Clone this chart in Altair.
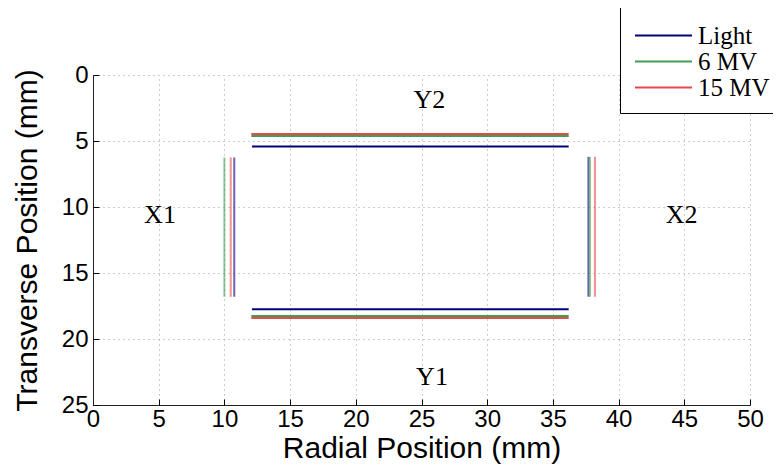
import altair as alt
import pandas as pd

# Segments: series, edge, x start, x end, y start, y end (mm)
series = ["Light", "Light", "Light", "Light",
          "6 MV", "6 MV", "6 MV", "6 MV",
          "15 MV", "15 MV", "15 MV", "15 MV"]
edge = ["Y2", "Y1", "X1", "X2"] * 3
x_start = [12.1, 12.1, 10.75, 37.7,
           12.05, 12.05, 10.0, 37.82,
           12.05, 12.05, 10.48, 38.2]
x_end = [36.2, 36.2, 10.75, 37.7,
         36.2, 36.2, 10.0, 37.82,
         36.2, 36.2, 10.48, 38.2]
y_start = [5.42, 17.75, 6.25, 6.2,
           4.62, 18.26, 6.25, 6.2,
           4.47, 18.4, 6.25, 6.2]
y_end = [5.42, 17.75, 16.8, 16.8,
         4.62, 18.26, 16.8, 16.8,
         4.47, 18.4, 16.8, 16.8]

# Annotation labels
ann_text = ["Y2", "Y1", "X1", "X2"]
ann_x = [25.6, 25.8, 5.1, 44.8]
ann_y = [1.9, 22.9, 10.6, 10.6]

x_ticks = [0, 5, 10, 15, 20, 25, 30, 35, 40, 45, 50]
y_ticks = [0, 5, 10, 15, 20, 25]

series_order = ["Light", "6 MV", "15 MV"]
series_colors = ["#00007a", "#3f9f52", "#e8484a"]

df = pd.DataFrame({"series": series, "edge": edge, "x0": x_start, "x1": x_end,
                   "y0": y_start, "y1": y_end})
df["vertical"] = df["edge"].isin(["X1", "X2"])
ann = pd.DataFrame({"t": ann_text, "x": ann_x, "y": ann_y})

xs = alt.Scale(domain=[0, 50], nice=False, zero=False)
ys = alt.Scale(domain=[0, 25], nice=False, zero=False, reverse=True)

grid_axis_common = dict(grid=True, gridColor="#9a9a9a", gridDash=[1, 4], gridWidth=1,
                        domainColor="#222", domainWidth=1, ticks=False, labelFlush=False,
                        labelFont="Liberation Sans", labelFontSize=24, labelColor="black",
                        titleFont="Liberation Sans", titleFontSize=30, titleColor="black",
                        titleFontWeight="normal")

x_axis = alt.Axis(values=x_ticks, title="Radial Position (mm)",
                  labelPadding=2, titlePadding=2, orient="bottom", **grid_axis_common)
y_axis = alt.Axis(values=y_ticks, title="Transverse Position (mm)",
                  labelPadding=5, titlePadding=19, orient="left", **grid_axis_common)

segments = alt.Chart(df).mark_rule(strokeWidth=2).encode(
    x=alt.X("x0:Q", scale=xs, axis=x_axis),
    x2="x1:Q",
    y=alt.Y("y0:Q", scale=ys, axis=y_axis),
    y2="y1:Q",
    color=alt.Color("series:N",
                    scale=alt.Scale(domain=series_order, range=series_colors),
                    sort=series_order,
                    legend=alt.Legend(orient="none", legendX=527, legendY=-68, title=" ",
                                      titleFontSize=4, titlePadding=0,
                                      symbolType="M-1,0H5", symbolSize=361,
                                      symbolStrokeWidth=2, labelFont="Liberation Serif",
                                      labelFontSize=25, labelColor="black", labelOffset=41,
                                      strokeColor="black", fillColor="white",
                                      padding=12, rowPadding=0)),
    opacity=alt.Opacity("vertical:N", scale=alt.Scale(domain=[False, True], range=[1.0, 0.6]),
                        legend=None),
)

tick_axis_x = alt.Axis(orient="bottom", offset=-6, tickSize=6, tickColor="#000", tickWidth=1,
                       labels=False, domain=False, grid=False, title=None,
                       values=x_ticks)
tick_axis_y = alt.Axis(orient="left", offset=-6, tickSize=6, tickColor="#000", tickWidth=1,
                       labels=False, domain=False, grid=False, title=None,
                       values=y_ticks)

ticks = alt.Chart(ann).mark_point(opacity=0).encode(
    x=alt.X("x:Q", scale=xs, axis=tick_axis_x),
    y=alt.Y("y:Q", scale=ys, axis=tick_axis_y),
)

labels = alt.Chart(ann).mark_text(font="Liberation Serif", fontSize=26, color="black").encode(
    x=alt.X("x:Q", scale=xs, axis=None),
    y=alt.Y("y:Q", scale=ys, axis=None),
    text="t:N",
)

chart = alt.layer(segments, ticks, labels).resolve_axis(
    x="independent", y="independent"
).properties(
    width=657, height=330,
    autosize=alt.AutoSizeParams(type="none"),
    padding={"left": 85, "top": 67, "right": 23, "bottom": 59},
    background="white",
).configure_view(stroke=None)

chart.save("out.html", embed_options={"renderer": "svg", "actions": False})
